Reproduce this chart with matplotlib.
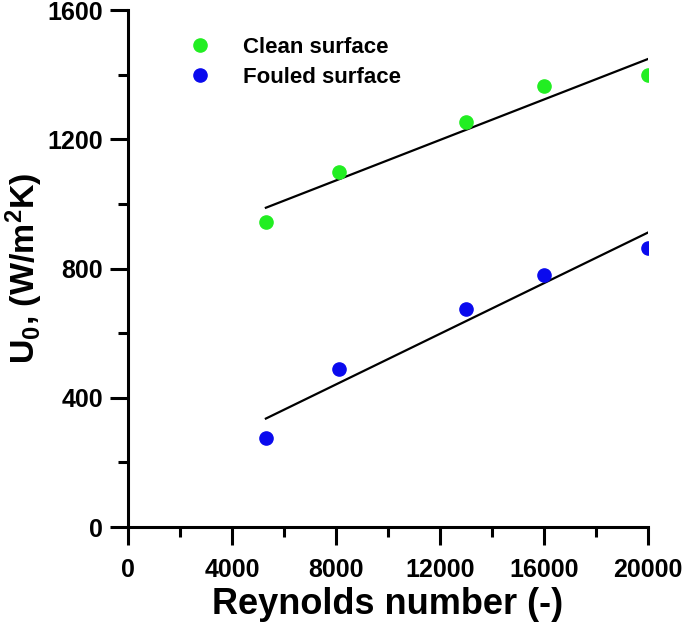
import numpy as np
import matplotlib
matplotlib.use("Agg")
import matplotlib.pyplot as plt
from matplotlib.ticker import MultipleLocator

# data
reynolds = [5300, 8100, 13000, 16000, 20000]
u_clean = [945, 1100, 1255, 1365, 1400]
u_fouled = [275, 490, 675, 780, 865]

plt.rcParams['font.family'] = ['Liberation Sans', 'DejaVu Sans']
plt.rcParams['font.weight'] = 'bold'
plt.rcParams['mathtext.fontset'] = 'custom'
plt.rcParams['mathtext.rm'] = 'Liberation Sans:bold'
plt.rcParams['mathtext.default'] = 'rm'

fig = plt.figure(figsize=(6.85, 6.26), dpi=100)
ax = fig.add_axes([0.187, 0.158, 0.759, 0.826])

x = np.array(reynolds)
ax.plot(x, u_clean, 'o', color='#22ee22', markersize=9.5, label='Clean surface', zorder=3)
ax.plot(x, u_fouled, 'o', color='#0a0aee', markersize=9.5, label='Fouled surface', zorder=3)

# linear fits
for ys in (u_clean, u_fouled):
    k, b = np.polyfit(x, ys, 1)
    xx = np.array([x.min(), x.max()])
    ax.plot(xx, k * xx + b, color='black', lw=1.6, zorder=2)

ax.set_xlim(0, 20000)
ax.set_ylim(0, 1600)
ax.xaxis.set_major_locator(MultipleLocator(4000))
ax.xaxis.set_minor_locator(MultipleLocator(2000))
ax.yaxis.set_major_locator(MultipleLocator(400))
ax.yaxis.set_minor_locator(MultipleLocator(200))

for side in ('top', 'right'):
    ax.spines[side].set_visible(False)
for side in ('left', 'bottom'):
    ax.spines[side].set_linewidth(2.2)

ax.tick_params(which='major', length=13, width=2.2, labelsize=18, pad=5)
ax.tick_params(axis='x', which='major', pad=9)
ax.tick_params(which='minor', length=7, width=2.2)
for lab in ax.get_xticklabels() + ax.get_yticklabels():
    lab.set_fontweight('bold')

ax.set_xlabel('Reynolds number (-)', fontsize=26, fontweight='bold', labelpad=4)
ax.set_ylabel(r'U$_0$, (W/m$^2$K)', fontsize=24.5, fontweight='bold', labelpad=2)

ax.legend(loc='upper left', bbox_to_anchor=(0.065, 0.978), frameon=False,
          fontsize=16, handletextpad=0.95, labelspacing=0.4, borderaxespad=0.3)

fig.savefig('out.png', dpi=100)
